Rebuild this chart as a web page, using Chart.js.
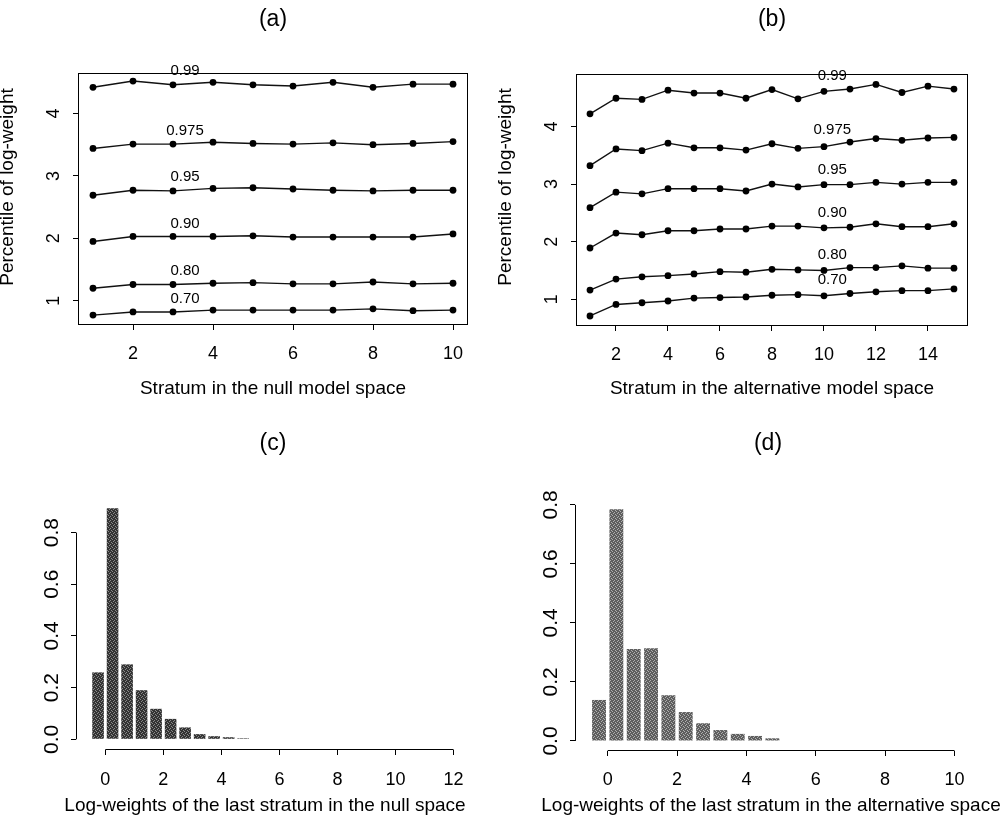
<!DOCTYPE html>
<html><head><meta charset="utf-8">
<script src="https://cdn.jsdelivr.net/npm/chart.js@4.4.1/dist/chart.umd.min.js"></script>
<style>
html,body{margin:0;padding:0;background:#fff;width:1008px;height:831px;overflow:hidden}
canvas{position:absolute;display:block}
</style></head><body>
<canvas id="ca" width="504" height="415" style="left:0;top:0"></canvas>
<canvas id="cb" width="528" height="415" style="left:480px;top:0"></canvas>
<canvas id="cc" width="504" height="416" style="left:0;top:415px"></canvas>
<canvas id="cd" width="504" height="416" style="left:504px;top:415px"></canvas>
<script>
// ---------------- data ----------------
const strataNull = [1,2,3,4,5,6,7,8,9,10];
const strataAlt  = [1,2,3,4,5,6,7,8,9,10,11,12,13,14,15];
const levelLabels = ['0.70','0.80','0.90','0.95','0.975','0.99'];

const nullQ70  = [0.77,0.82,0.82,0.85,0.85,0.85,0.85,0.87,0.84,0.85];
const nullQ80  = [1.20,1.26,1.26,1.28,1.29,1.27,1.27,1.30,1.27,1.28];
const nullQ90  = [1.95,2.03,2.03,2.03,2.04,2.02,2.02,2.02,2.02,2.07];
const nullQ95  = [2.69,2.77,2.76,2.80,2.81,2.79,2.77,2.76,2.77,2.77];
const nullQ975 = [3.44,3.51,3.51,3.54,3.52,3.51,3.53,3.50,3.52,3.55];
const nullQ99  = [4.42,4.52,4.46,4.50,4.46,4.44,4.50,4.42,4.47,4.47];

const altQ70  = [0.71,0.91,0.94,0.97,1.02,1.03,1.04,1.07,1.08,1.06,1.10,1.13,1.15,1.15,1.18];
const altQ80  = [1.16,1.35,1.39,1.41,1.44,1.48,1.47,1.52,1.51,1.50,1.55,1.55,1.58,1.54,1.54];
const altQ90  = [1.89,2.15,2.12,2.19,2.19,2.22,2.22,2.27,2.27,2.24,2.25,2.31,2.26,2.26,2.31];
const altQ95  = [2.59,2.86,2.83,2.92,2.92,2.92,2.88,3.00,2.95,2.99,2.99,3.03,3.00,3.03,3.03];
const altQ975 = [3.32,3.61,3.58,3.71,3.63,3.63,3.59,3.70,3.62,3.65,3.73,3.79,3.76,3.80,3.81];
const altQ99  = [4.22,4.49,4.47,4.63,4.58,4.58,4.49,4.64,4.48,4.61,4.65,4.73,4.59,4.70,4.65];

const binCenters  = [-0.25,0.25,0.75,1.25,1.75,2.25,2.75,3.25,3.75,4.25,4.75];
const nullDensity = [0.259,0.894,0.290,0.190,0.118,0.079,0.046,0.020,0.012,0.008,0.004];
const altDensity  = [0.139,0.785,0.312,0.314,0.155,0.098,0.060,0.037,0.024,0.017,0.009];

const xTicksNull     = [2,4,6,8,10];
const xTicksAlt      = [2,4,6,8,10,12,14];
const yTicksPct      = [1,2,3,4];
const xTicksHistNull = [0,2,4,6,8,10,12];
const xTicksHistAlt  = [0,2,4,6,8,10];
const yTicksDensity  = [0,0.2,0.4,0.6,0.8];

// ---------------- helpers ----------------
const FONT = '"Liberation Sans", Arial, Helvetica, sans-serif';

const decor = {
  id: 'decor',
  afterDraw(chart, args, o) {
    const ctx = chart.ctx, a = chart.chartArea;
    const xs = chart.scales.x, ys = chart.scales.y;
    ctx.save();
    ctx.strokeStyle = '#000';
    ctx.lineWidth = 1;
    if (o.box) {
      ctx.strokeRect(Math.round(a.left) + 0.5, Math.round(a.top) + 0.5,
                     Math.round(a.right - a.left) - 1, Math.round(a.bottom - a.top) - 1);
    }
    if (o.axisLines) {
      const xt = o.axisLines.x, yt = o.axisLines.y;
      const by = Math.round(a.bottom) - 0.5;
      ctx.beginPath();
      ctx.moveTo(xs.getPixelForValue(xt[0]), by);
      ctx.lineTo(xs.getPixelForValue(xt[xt.length - 1]), by);
      const lx = Math.round(a.left) + 0.5;
      ctx.moveTo(lx, ys.getPixelForValue(yt[0]));
      ctx.lineTo(lx, ys.getPixelForValue(yt[yt.length - 1]));
      ctx.stroke();
    }
    ctx.fillStyle = '#000';
    if (o.curveLabels) {
      const cl = o.curveLabels;
      ctx.font = cl.size + 'px ' + FONT;
      ctx.textAlign = 'center';
      ctx.textBaseline = 'middle';
      cl.items.forEach(it => {
        const s = it.series, xv = cl.x;
        const i = Math.min(Math.floor(xv) - 1, s.length - 2);
        const f = xv - (i + 1);
        const v = s[i] + (s[i + 1] - s[i]) * f;
        ctx.fillText(it.text, xs.getPixelForValue(xv), ys.getPixelForValue(v) - cl.offset);
      });
    }
    (o.texts || []).forEach(t => {
      ctx.save();
      ctx.font = t.size + 'px ' + FONT;
      ctx.textAlign = 'center';
      ctx.textBaseline = t.baseline || 'middle';
      ctx.translate(t.x, t.y);
      if (t.rot) ctx.rotate(-Math.PI / 2);
      ctx.fillText(t.text, 0, 0);
      ctx.restore();
    });
    ctx.restore();
  }
};

function tickSetter(list) {
  return ax => { ax.ticks = list.map(v => ({ value: v })); };
}

function xAxis(min, max, ticks, height, pad, fmt) {
  return {
    type: 'linear', min, max, offset: false,
    afterBuildTicks: tickSetter(ticks),
    afterFit: s => { s.height = height; },
    ticks: { font: { family: FONT, size: 18 }, color: '#000', padding: pad,
             autoSkip: false, minRotation: 0, maxRotation: 0,
             callback: v => fmt ? fmt(v) : String(v) },
    grid: { display: true, drawOnChartArea: false, drawTicks: true, tickLength: 5,
            color: '#000', lineWidth: 1, offset: false },
    border: { display: false }
  };
}
function yAxis(min, max, ticks, width, pad, size, fmt) {
  return {
    type: 'linear', min, max,
    afterBuildTicks: tickSetter(ticks),
    afterFit: s => { s.width = width; },
    ticks: { font: { family: FONT, size }, color: '#000', padding: pad,
             autoSkip: false, minRotation: 90, maxRotation: 90, crossAlign: 'center',
             callback: v => fmt ? fmt(v) : String(v) },
    grid: { display: true, drawOnChartArea: false, drawTicks: true, tickLength: 5,
            color: '#000', lineWidth: 1 },
    border: { display: false }
  };
}

function lineDatasets(strata, seriesList) {
  return seriesList.map((s, k) => ({
    label: levelLabels[k],
    data: strata.map((x, i) => ({ x, y: s[i] })),
    borderColor: '#111', borderWidth: 1.4, tension: 0,
    pointRadius: 3.4, pointBackgroundColor: '#000', pointBorderWidth: 0,
    fill: false
  }));
}

// fixed (non-random) halftone tile for the histogram bars
function halftone(dark, light) {
  const c = document.createElement('canvas');
  c.width = 4; c.height = 4;
  const g = c.getContext('2d');
  g.fillStyle = dark; g.fillRect(0, 0, 4, 4);
  g.fillStyle = light;
  [[0,0],[2,1],[1,2],[3,3]].forEach(p => g.fillRect(p[0], p[1], 1, 1));
  return g.createPattern(c, 'repeat');
}

const common = {
  responsive: false, animation: false, devicePixelRatio: 1,
  plugins: { legend: { display: false }, tooltip: { enabled: false } }
};

// ---------------- (a) ----------------
const nullSeries = [nullQ70, nullQ80, nullQ90, nullQ95, nullQ975, nullQ99];
new Chart(document.getElementById('ca'), {
  type: 'line',
  data: { datasets: lineDatasets(strataNull, nullSeries) },
  options: Object.assign({}, common, {
    layout: { padding: { left: 0, top: 73, right: 36, bottom: 0 } },
    scales: {
      x: xAxis(0.625, 10.375, xTicksNull, 90, 13),
      y: yAxis(0.611, 4.649, yTicksPct, 78, 14, 18)
    },
    plugins: Object.assign({}, common.plugins, {
      decor: {
        box: true,
        curveLabels: { x: 3.3, offset: 13, size: 15,
          items: nullSeries.map((s, k) => ({ text: levelLabels[k], series: s })) },
        texts: [
          { text: '(a)', x: 273, y: 20, size: 23 },
          { text: 'Stratum in the null model space', x: 273, y: 389, size: 19 },
          { text: 'Percentile of log-weight', x: 12.5, y: 187, size: 19, rot: true, baseline: 'alphabetic' }
        ]
      }
    })
  }),
  plugins: [decor]
});

// ---------------- (b) ----------------
const altSeries = [altQ70, altQ80, altQ90, altQ95, altQ975, altQ99];
new Chart(document.getElementById('cb'), {
  type: 'line',
  data: { datasets: lineDatasets(strataAlt, altSeries) },
  options: Object.assign({}, common, {
    layout: { padding: { left: 0, top: 74, right: 40, bottom: 0 } },
    scales: {
      x: xAxis(0.4615, 15.54, xTicksAlt, 89, 13),
      y: yAxis(0.536, 4.911, yTicksPct, 96, 14, 18)
    },
    plugins: Object.assign({}, common.plugins, {
      decor: {
        box: true,
        curveLabels: { x: 10.32, offset: 15, size: 15,
          items: altSeries.map((s, k) => ({ text: levelLabels[k], series: s })) },
        texts: [
          { text: '(b)', x: 292, y: 20, size: 23 },
          { text: 'Stratum in the alternative model space', x: 292, y: 389, size: 19 },
          { text: 'Percentile of log-weight', x: 31, y: 187, size: 19, rot: true, baseline: 'alphabetic' }
        ]
      }
    })
  }),
  plugins: [decor]
});

// ---------------- (c) ----------------
function histDataset(dens, color) {
  return [{
    data: binCenters.map((x, i) => ({ x, y: dens[i] })),
    backgroundColor: color, borderWidth: 0,
    barPercentage: 1.0, categoryPercentage: 0.8
  }];
}
const fmt1 = v => Number(v).toFixed(1);

new Chart(document.getElementById('cc'), {
  type: 'bar',
  data: { datasets: histDataset(nullDensity, halftone('#333333', '#8a8a8a')) },
  options: Object.assign({}, common, {
    layout: { padding: { left: 0, top: 84, right: 49, bottom: 0 } },
    scales: {
      x: xAxis(-1.01, 12.05, xTicksHistNull, 81, 14),
      y: yAxis(-0.0414, 0.930, yTicksDensity, 76, 4, 21, fmt1)
    },
    plugins: Object.assign({}, common.plugins, {
      decor: {
        axisLines: { x: xTicksHistNull, y: yTicksDensity },
        texts: [
          { text: '(c)', x: 273, y: 29, size: 23 },
          { text: 'Log-weights of the last stratum in the null space', x: 265, y: 391, size: 19 }
        ]
      }
    })
  }),
  plugins: [decor]
});

// ---------------- (d) ----------------
new Chart(document.getElementById('cd'), {
  type: 'bar',
  data: { datasets: histDataset(altDensity, halftone('#5e5e5e', '#b0b0b0')) },
  options: Object.assign({}, common, {
    layout: { padding: { left: 0, top: 84, right: 40, bottom: 0 } },
    scales: {
      x: xAxis(-0.943, 10.39, xTicksHistAlt, 80, 13),
      y: yAxis(-0.034, 0.820, yTicksDensity, 71, 4, 21, fmt1)
    },
    plugins: Object.assign({}, common.plugins, {
      decor: {
        axisLines: { x: xTicksHistAlt, y: yTicksDensity },
        texts: [
          { text: '(d)', x: 264, y: 29, size: 23 },
          { text: 'Log-weights of the last stratum in the alternative space', x: 267, y: 391, size: 19 }
        ]
      }
    })
  }),
  plugins: [decor]
});
</script>
</body></html>
